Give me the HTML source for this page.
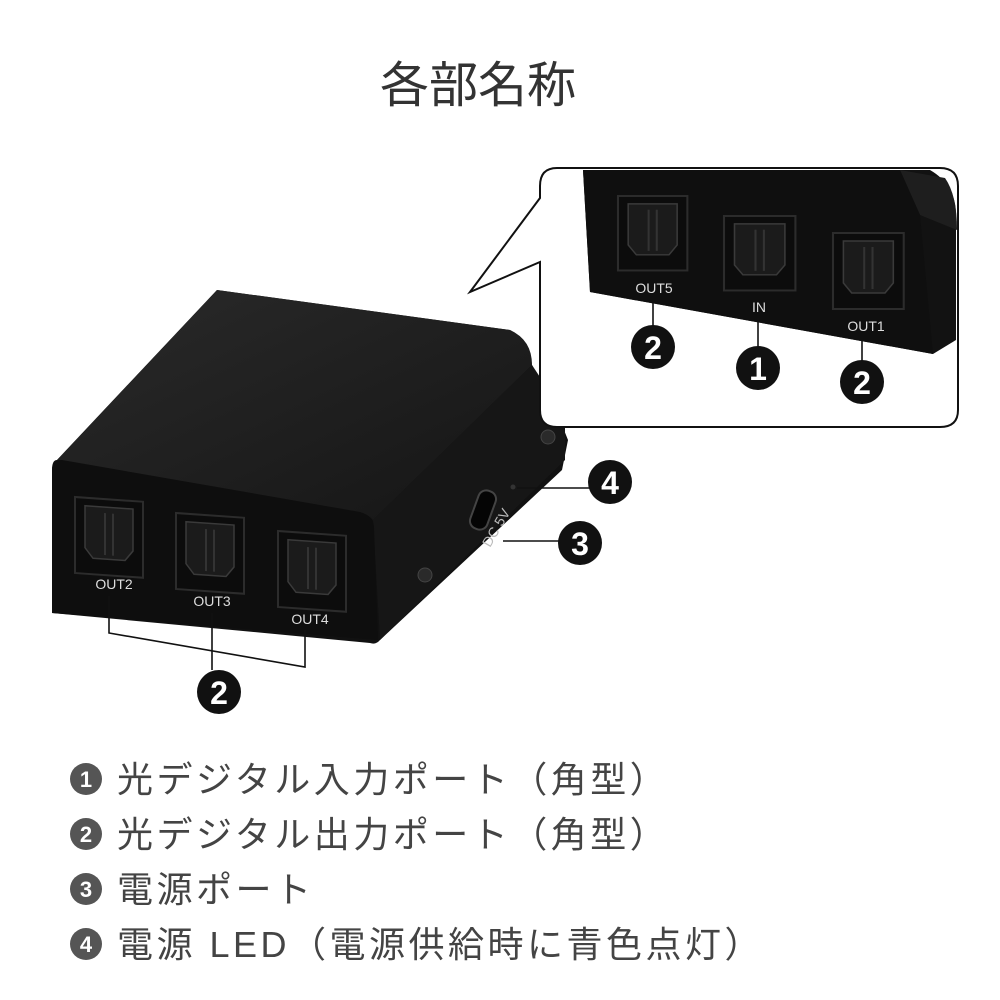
<!DOCTYPE html>
<html><head><meta charset="utf-8"><style>
html,body{margin:0;padding:0;background:#fff;}
svg{display:block}
</style></head><body>
<svg width="1000" height="1000" viewBox="0 0 1000 1000" xmlns="http://www.w3.org/2000/svg">
<defs>
<linearGradient id="top" x1="0" y1="0" x2="1" y2="1"><stop offset="0" stop-color="#2a2a2a"/><stop offset="1" stop-color="#151515"/></linearGradient>
<g id="port">
<rect x="0" y="0" width="68" height="76" fill="#0c0c0c" stroke="#2c2c2c" stroke-width="2"/>
<path d="M10 8 H58 V50 L50 60 H18 L10 50 Z" fill="#1b1b1b" stroke="#3a3a3a" stroke-width="1.5"/>
<line x1="30" y1="14" x2="30" y2="56" stroke="#333" stroke-width="2"/>
<line x1="38" y1="14" x2="38" y2="56" stroke="#333" stroke-width="2"/>
</g>
</defs>
<text x="478" y="102" font-family="'Liberation Sans','Noto Sans CJK JP',sans-serif" font-size="49" fill="#333" text-anchor="middle">各部名称</text>

<!-- main device -->
<path d="M57 460 L217 290 L510 330 Q530 340 532 365 L560 420 L568 440 L562 470 L380 640 Q376 645 370 643 L52 613 L52 470 Q52 460 57 460 Z" fill="#111"/>
<path d="M57 460 L217 290 L510 330 Q532 340 532 365 L373 520 Q368 514 360 513 Z" fill="url(#top)"/>
<path d="M373 520 L532 365 L565 415 L565 460 L380 640 Z" fill="#161616"/>
<path d="M52 470 Q52 460 62 460 L360 512 Q374 516 374 528 L378 640 L52 613 Z" fill="#0e0e0e"/>
<g transform="translate(75,497) skewY(4)"><use href="#port"/></g>
<g transform="translate(176,513) skewY(4)"><use href="#port"/></g>
<g transform="translate(278,531) skewY(4)"><use href="#port"/></g>
<g font-family="'Liberation Sans',sans-serif" font-size="14" fill="#ddd" text-anchor="middle">
<text x="114" y="589">OUT2</text><text x="212" y="606">OUT3</text><text x="310" y="624">OUT4</text>
</g>
<rect x="474" y="490" width="18" height="40" rx="8" fill="#050505" stroke="#444" stroke-width="2" transform="rotate(20 483 510)"/>
<circle cx="513" cy="487" r="2.5" fill="#333"/>
<text x="490" y="548" font-family="'Liberation Sans',sans-serif" font-size="14" fill="#bbb" transform="rotate(-60 490 548)">DC 5V</text>
<circle cx="548" cy="437" r="7" fill="#2a2a2a" stroke="#444"/>
<circle cx="425" cy="575" r="7" fill="#2a2a2a" stroke="#444"/>

<!-- callout -->
<path d="M540 198 L470 292 L540 262 L540 410 Q540 427 557 427 L940 427 Q958 427 958 410 L958 186 Q958 168 940 168 L557 168 Q540 168 540 186 Z" fill="#fff" stroke="#111" stroke-width="2"/>
<path d="M583 170 L930 170 Q956 185 956 215 L956 340 L933 354 L590 292 Z" fill="#121212"/>
<path d="M900 170 L945 178 Q957 195 957 230 L920 215 Z" fill="#1e1e1e"/>
<path d="M583 170 L900 170 L920 215 L933 354 L590 292 Z" fill="#0f0f0f"/>
<use href="#port" transform="translate(618,196) scale(1.02,0.98)"/>
<use href="#port" transform="translate(724,216) scale(1.05,0.98)"/>
<use href="#port" transform="translate(833,233) scale(1.04,1)"/>
<g font-family="'Liberation Sans',sans-serif" font-size="14" fill="#ddd" text-anchor="middle">
<text x="654" y="293">OUT5</text><text x="759" y="312">IN</text><text x="866" y="331">OUT1</text>
</g>

<!-- leader lines -->
<g stroke="#111" stroke-width="1.6" fill="none">
<line x1="653" y1="300" x2="653" y2="330"/>
<line x1="758" y1="318" x2="758" y2="348"/>
<line x1="862" y1="340" x2="862" y2="365"/>
<line x1="517" y1="488" x2="590" y2="488"/>
<line x1="503" y1="541" x2="560" y2="541"/>
<polyline points="109,596 109,633 305,667 305,630"/>
<line x1="212" y1="613" x2="212" y2="670"/>
</g>
<g font-family="'Liberation Sans',sans-serif" font-weight="bold" font-size="32" fill="#fff" text-anchor="middle">
<circle cx="653" cy="347" r="22" fill="#111"/><text x="653" y="359">2</text>
<circle cx="758" cy="368" r="22" fill="#111"/><text x="758" y="380">1</text>
<circle cx="862" cy="382" r="22" fill="#111"/><text x="862" y="394">2</text>
<circle cx="610" cy="482" r="22" fill="#111"/><text x="610" y="494">4</text>
<circle cx="580" cy="543" r="22" fill="#111"/><text x="580" y="555">3</text>
<circle cx="219" cy="692" r="22" fill="#111"/><text x="219" y="704">2</text>
</g>

<!-- legend -->
<g font-family="'Liberation Sans','Noto Sans CJK JP',sans-serif" font-size="36" fill="#444" letter-spacing="3.5">
<g font-weight="bold" font-size="22" fill="#fff" text-anchor="middle" letter-spacing="0">
<circle cx="86" cy="779" r="16" fill="#555"/><text x="86" y="787">1</text>
<circle cx="86" cy="834" r="16" fill="#555"/><text x="86" y="842">2</text>
<circle cx="86" cy="889" r="16" fill="#555"/><text x="86" y="897">3</text>
<circle cx="86" cy="944" r="16" fill="#555"/><text x="86" y="952">4</text>
</g>
<text x="117" y="792">光デジタル入力ポート（角型）</text>
<text x="117" y="847">光デジタル出力ポート（角型）</text>
<text x="117" y="902">電源ポート</text>
<text x="117" y="957">電源 LED（電源供給時に青色点灯）</text>
</g>
</svg>
</body></html>
